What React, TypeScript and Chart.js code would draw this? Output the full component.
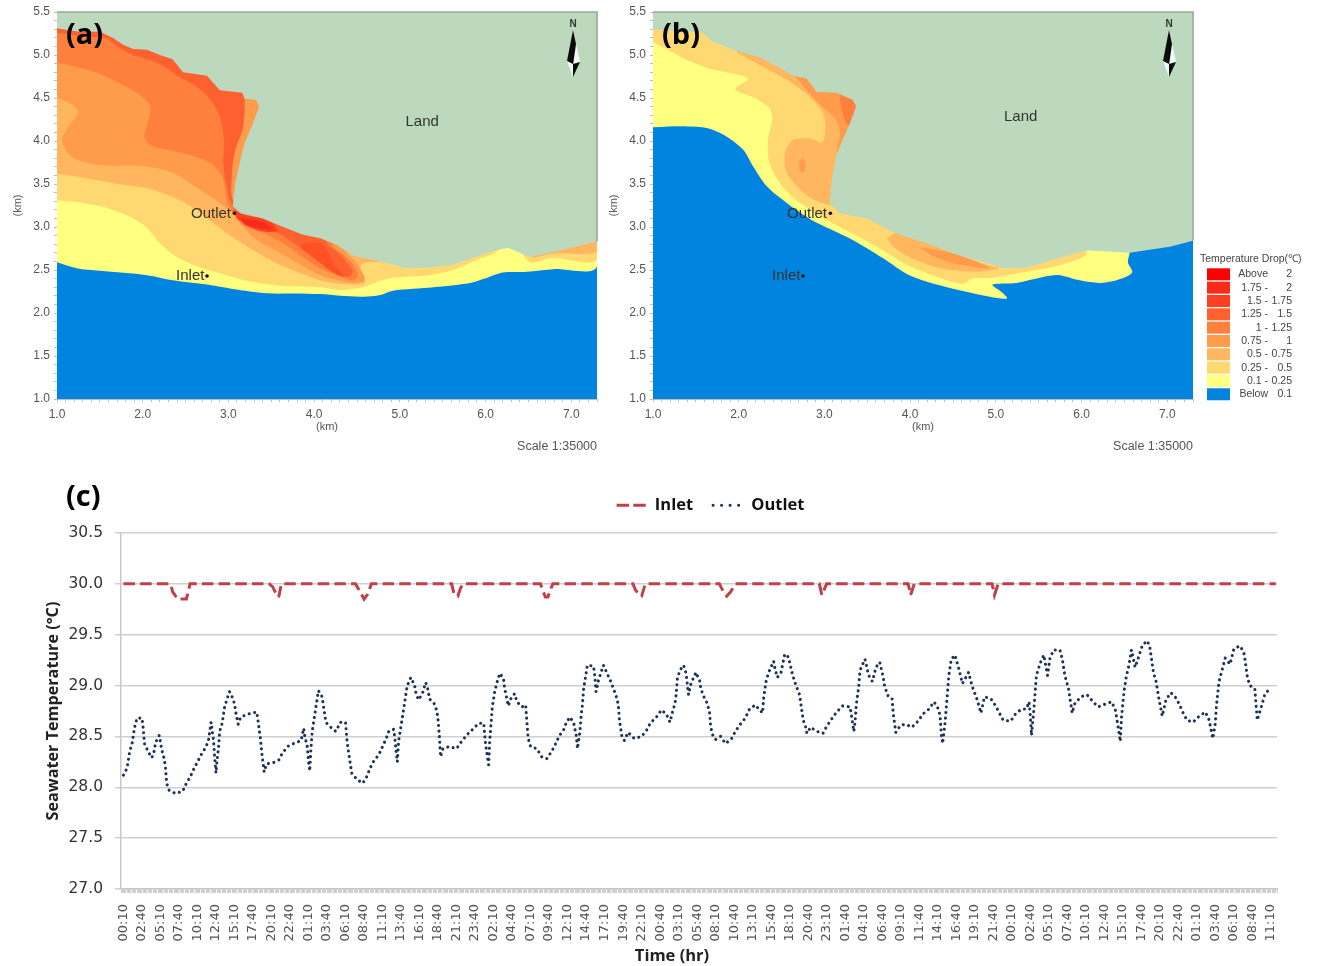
import React, { useEffect, useRef } from "react";
import { Chart, registerables } from "chart.js";

Chart.register(...registerables);

type Pt = number[];

// ---------- temperature classes ----------
const classColors = ["#FF0000", "#F82A1A", "#FF3F1E", "#FF6030", "#FF7F3C", "#FF9C4C", "#FFB65E", "#FFD872", "#FFFF80", "#0084E0"];
const classLow = ["Above", "1.75 -", "1.5 -", "1.25 -", "1 -", "0.75 -", "0.5 -", "0.25 -", "0.1 -", "Below"];
const classHigh = ["2", "2", "1.75", "1.5", "1.25", "1", "0.75", "0.5", "0.25", "0.1"];
const landColor = "#BCD9BE";

// ---------- panel (a): iso-drop regions, km ----------
const seaExtent: Pt[] = [[1, 1], [7.3, 1], [7.3, 5.5], [1, 5.5]];
const aDrop010: Pt[] = [[1, 2.59], [1.23, 2.52], [1.5, 2.49], [2.05, 2.44], [2.35, 2.38], [2.75, 2.33], [3.05, 2.28], [3.45, 2.23], [4.07, 2.22], [4.3, 2.2], [4.57, 2.19], [4.77, 2.21], [4.92, 2.26], [5.39, 2.3], [5.82, 2.35], [6.02, 2.41], [6.2, 2.47], [6.48, 2.48], [6.79, 2.51], [7.3, 2.55], [7.3, 5.5], [1, 5.5]];
const aDrop025: Pt[] = [[1, 3.31], [1.23, 3.29], [1.58, 3.22], [1.89, 3.1], [2.05, 2.99], [2.2, 2.81], [2.4, 2.65], [2.67, 2.53], [2.98, 2.44], [3.29, 2.36], [3.68, 2.31], [4.07, 2.3], [4.3, 2.27], [4.57, 2.3], [4.73, 2.36], [4.92, 2.41], [5.35, 2.44], [5.62, 2.5], [5.9, 2.62], [6.09, 2.69], [6.23, 2.78], [6.4, 2.72], [6.52, 2.59], [6.79, 2.64], [7.3, 2.64], [7.3, 5.5], [1, 5.5]];
const aDrop050: Pt[] = [[1, 3.62], [1.27, 3.58], [1.65, 3.51], [2.05, 3.45], [2.35, 3.35], [2.63, 3.2], [2.82, 3.05], [3.05, 2.88], [3.29, 2.73], [3.6, 2.56], [4.07, 2.38], [4.3, 2.34], [4.59, 2.35], [4.54, 2.5], [4.57, 2.58], [4.83, 2.64], [4.83, 5.5], [1, 5.5]];
const aDrop050East: Pt[] = [[6.55, 2.64], [6.79, 2.69], [7.3, 2.71], [7.3, 2.9], [6.52, 2.75]];
const aDrop075: Pt[] = [[1, 4.5], [1.13, 4.45], [1.25, 4.34], [1.13, 4.16], [1.06, 4.01], [1.18, 3.81], [1.5, 3.72], [2, 3.71], [2.35, 3.63], [2.67, 3.43], [2.9, 3.28], [3.05, 3.16], [3.29, 2.88], [3.6, 2.7], [3.84, 2.56], [4.07, 2.44], [4.27, 2.38], [4.45, 2.35], [4.59, 2.38], [4.51, 2.56], [4.36, 2.76], [4.36, 5.5], [1, 5.5]];
const aDrop100: Pt[] = [[1, 4.91], [1.15, 4.88], [1.47, 4.79], [1.77, 4.65], [2, 4.51], [2.09, 4.4], [2.06, 4.21], [2.02, 4.05], [2.09, 3.95], [2.28, 3.9], [2.55, 3.84], [2.79, 3.74], [2.93, 3.58], [2.98, 3.31], [3.05, 3.17], [3.17, 3.02], [3.4, 2.93], [3.64, 2.81], [3.84, 2.67], [4.07, 2.52], [4.27, 2.44], [4.45, 2.38], [4.51, 2.44], [4.44, 2.58], [4.3, 2.71], [4.22, 2.78], [4.22, 3.2], [3.3, 3.25], [3.06, 3.3], [3.04, 3.63], [3.08, 3.9], [3.17, 4.16], [3.19, 4.49], [3.19, 5.5], [1, 5.5]];
const aDrop125: Pt[] = [[1, 5.26], [1.27, 5.22], [1.58, 5.19], [1.7, 5.1], [1.89, 5], [2.17, 4.91], [2.44, 4.74], [2.63, 4.63], [2.79, 4.48], [2.9, 4.28], [2.95, 4.01], [2.94, 3.74], [2.98, 3.47], [3.04, 3.26], [3.22, 3.05], [3.45, 2.99], [3.68, 2.87], [3.87, 2.73], [4.07, 2.58], [4.22, 2.48], [4.4, 2.42], [4.45, 2.48], [4.38, 2.59], [4.27, 2.71], [4.15, 2.81], [4.15, 3.1], [3.3, 3.3], [3.06, 3.3], [3.04, 3.63], [3.08, 3.9], [3.17, 4.16], [3.19, 4.49], [3.19, 5.5], [1, 5.5]];
const aDrop150Outlet: Pt[] = [[3.05, 3.2], [3.22, 3.13], [3.43, 3.1], [3.54, 3.02], [3.56, 2.95], [3.39, 2.95], [3.23, 3.01], [3.1, 3.1]];
const aDrop150South: Pt[] = [[3.84, 2.8], [4.07, 2.81], [4.16, 2.71], [4.24, 2.56], [4.36, 2.43], [4.28, 2.44], [4.15, 2.52], [4.07, 2.59], [3.87, 2.74]];
const aDrop175Outlet: Pt[] = [[3.14, 3.1], [3.31, 3.08], [3.48, 3.01], [3.51, 2.97], [3.34, 2.99], [3.19, 3.03]];
const aLand: Pt[] = [[1, 5.31], [1.12, 5.29], [1.27, 5.27], [1.5, 5.27], [1.65, 5.2], [1.77, 5.12], [1.89, 5.07], [2.05, 5.06], [2.2, 5], [2.35, 4.95], [2.47, 4.8], [2.75, 4.76], [2.9, 4.59], [3.16, 4.56], [3.19, 4.49], [3.32, 4.48], [3.36, 4.4], [3.28, 4.19], [3.19, 3.98], [3.14, 3.78], [3.08, 3.51], [3.05, 3.24], [3.14, 3.16], [3.4, 3.1], [3.64, 3], [3.87, 2.91], [4.07, 2.87], [4.27, 2.79], [4.45, 2.67], [4.77, 2.6], [5.08, 2.52], [5.32, 2.53], [5.62, 2.56], [5.85, 2.64], [6.09, 2.72], [6.26, 2.76], [6.4, 2.7], [6.52, 2.65], [6.79, 2.71], [7.3, 2.83], [7.3, 5.5], [1, 5.5]];
const aFrame: Pt[] = [[1, 5.5], [7.3, 5.5], [7.3, 2.83]];

// ---------- panel (b): iso-drop regions, km ----------
const bDrop010: Pt[] = [[1, 4.16], [1.4, 4.17], [1.63, 4.15], [1.86, 4.05], [2.05, 3.9], [2.17, 3.7], [2.33, 3.47], [2.56, 3.28], [2.79, 3.12], [2.91, 3.05], [3.33, 2.85], [3.68, 2.64], [3.99, 2.44], [4.43, 2.3], [4.93, 2.19], [5.13, 2.17], [5.07, 2.24], [4.96, 2.33], [5.24, 2.35], [5.55, 2.42], [5.74, 2.44], [5.98, 2.38], [6.21, 2.35], [6.41, 2.38], [6.59, 2.47], [6.54, 2.59], [6.56, 2.7], [6.56, 5.5], [1, 5.5]];
const bDrop025: Pt[] = [[1, 5.15], [1.12, 5.09], [1.4, 4.94], [1.7, 4.83], [2.11, 4.73], [1.96, 4.6], [2.17, 4.51], [2.36, 4.38], [2.39, 4.24], [2.34, 4.01], [2.36, 3.74], [2.48, 3.51], [2.63, 3.35], [2.75, 3.26], [3.03, 3.08], [3.41, 2.88], [3.68, 2.73], [3.96, 2.56], [4.26, 2.44], [4.61, 2.34], [4.73, 2.4], [4.96, 2.41], [5.36, 2.48], [5.63, 2.53], [5.83, 2.58], [6.06, 2.71], [6.06, 5.5], [1, 5.5]];
const bDrop050: Pt[] = [[1.98, 5.03], [2.25, 4.88], [2.63, 4.67], [2.86, 4.48], [3, 4.28], [2.98, 3.99], [2.83, 4.03], [2.63, 4.01], [2.54, 3.86], [2.56, 3.63], [2.79, 3.37], [3.06, 3.26], [3.3, 3.3], [3.6, 5.5], [1.98, 5.5]];
const bDrop050South: Pt[] = [[3.73, 2.87], [3.88, 2.95], [4.08, 2.87], [4.43, 2.73], [4.89, 2.56], [5.04, 2.52], [4.78, 2.48], [4.35, 2.52], [3.99, 2.65], [3.8, 2.77]];
const bDrop075: Pt[] = [[2.6, 4.8], [2.65, 4.76], [2.77, 4.62], [2.95, 4.42], [3.12, 4.27], [3.18, 4.1], [3.16, 3.84], [3.5, 3.84], [3.5, 5], [2.6, 5]];
const bDrop075Spot: Pt[] = [[2.7, 3.75], [2.74, 3.8], [2.78, 3.75], [2.77, 3.67], [2.74, 3.63], [2.71, 3.67]];
const bDrop075South: Pt[] = [[4.11, 2.76], [4.34, 2.73], [4.66, 2.64], [4.93, 2.52], [4.58, 2.56], [4.31, 2.64]];
const bDrop100: Pt[] = [[3.18, 4.5], [3.21, 4.33], [3.27, 4.19], [3.5, 4.19], [3.5, 4.6], [3.18, 4.6]];
const bLand: Pt[] = [[1, 5.3], [1.12, 5.29], [1.58, 5.26], [1.7, 5.15], [1.93, 5.06], [2.25, 4.97], [2.48, 4.85], [2.63, 4.76], [2.79, 4.73], [2.91, 4.57], [3.14, 4.56], [3.33, 4.48], [3.37, 4.4], [3.3, 4.21], [3.21, 4.01], [3.14, 3.84], [3.09, 3.58], [3.06, 3.28], [3.18, 3.16], [3.49, 3.1], [3.8, 2.94], [4.19, 2.81], [4.58, 2.67], [4.96, 2.56], [5.08, 2.52], [5.36, 2.53], [5.74, 2.64], [6.06, 2.73], [6.56, 2.7], [6.83, 2.74], [7.03, 2.77], [7.3, 2.84], [7.3, 5.5], [1, 5.5]];
const bFrame: Pt[] = [[1, 5.5], [7.3, 5.5], [7.3, 2.84]];

const outletPoint: Pt[] = [[3.07, 3.16]];
const inletPoint: Pt[] = [[2.75, 2.43]];

// ---------- panel (c): time-series ----------
const timeLabels = ["00:10", "02:40", "05:10", "07:40", "10:10", "12:40", "15:10", "17:40", "20:10", "22:40", "01:10", "03:40", "06:10", "08:40", "11:10", "13:40", "16:10", "18:40", "21:10", "23:40", "02:10", "04:40", "07:10", "09:40", "12:10", "14:40", "17:10", "19:40", "22:10", "00:40", "03:10", "05:40", "08:10", "10:40", "13:10", "15:40", "18:10", "20:40", "23:10", "01:40", "04:10", "06:40", "09:10", "11:40", "14:10", "16:40", "19:10", "21:40", "00:10", "02:40", "05:10", "07:40", "10:10", "12:40", "15:10", "17:40", "20:10", "22:40", "01:10", "03:40", "06:10", "08:40", "11:10"];
const tempTicks = [27, 27.5, 28, 28.5, 29, 29.5, 30, 30.5];

// elapsed minutes since the first 00:10 sample, °C
const inletSeries: Pt[] = [[0, 30], [380, 30], [400, 29.92], [440, 29.85], [510, 29.85], [530, 29.95], [540, 30], [1180, 30], [1210, 29.97], [1250, 29.87], [1260, 29.88], [1280, 30], [1880, 30], [1910, 29.94], [1950, 29.85], [1980, 29.9], [2010, 30], [2660, 30], [2680, 29.9], [2710, 29.88], [2730, 29.95], [2750, 30], [3380, 30], [3400, 29.93], [3420, 29.87], [3440, 29.87], [3470, 29.97], [3480, 30], [4130, 30], [4150, 29.94], [4190, 29.88], [4200, 29.88], [4230, 30], [4830, 30], [4860, 29.93], [4890, 29.88], [4920, 29.92], [4960, 30], [5640, 30], [5650, 29.95], [5660, 29.89], [5700, 30], [6360, 30], [6370, 29.95], [6380, 29.89], [6410, 30], [7040, 30], [7050, 29.95], [7060, 29.89], [7090, 30], [9340, 30]];
const outletSeries: Pt[] = [[0, 28.12], [30, 28.19], [50, 28.35], [70, 28.43], [90, 28.59], [110, 28.68], [150, 28.68], [160, 28.58], [170, 28.43], [200, 28.35], [230, 28.29], [250, 28.36], [260, 28.44], [290, 28.51], [300, 28.44], [310, 28.37], [330, 28.28], [340, 28.2], [350, 28.04], [370, 27.97], [420, 27.94], [480, 27.96], [510, 28.04], [540, 28.1], [570, 28.18], [600, 28.25], [630, 28.32], [670, 28.4], [690, 28.47], [710, 28.64], [730, 28.46], [740, 28.28], [750, 28.14], [760, 28.28], [770, 28.38], [780, 28.55], [800, 28.63], [810, 28.71], [820, 28.79], [840, 28.87], [860, 28.94], [880, 28.89], [900, 28.82], [910, 28.74], [930, 28.62], [950, 28.69], [1010, 28.72], [1080, 28.74], [1090, 28.66], [1110, 28.48], [1120, 28.35], [1130, 28.25], [1140, 28.15], [1160, 28.23], [1210, 28.24], [1260, 28.27], [1290, 28.34], [1340, 28.41], [1400, 28.44], [1440, 28.46], [1460, 28.58], [1470, 28.5], [1490, 28.4], [1500, 28.25], [1510, 28.16], [1520, 28.38], [1530, 28.55], [1540, 28.63], [1550, 28.71], [1560, 28.79], [1580, 28.95], [1610, 28.89], [1630, 28.73], [1640, 28.64], [1670, 28.6], [1720, 28.55], [1760, 28.64], [1800, 28.64], [1810, 28.48], [1820, 28.38], [1840, 28.22], [1850, 28.14], [1890, 28.08], [1940, 28.04], [1970, 28.1], [2000, 28.19], [2030, 28.26], [2070, 28.32], [2100, 28.4], [2130, 28.48], [2150, 28.55], [2190, 28.57], [2200, 28.48], [2210, 28.35], [2220, 28.25], [2230, 28.45], [2240, 28.53], [2260, 28.68], [2270, 28.76], [2280, 28.84], [2300, 29], [2330, 29.08], [2360, 29], [2370, 28.93], [2390, 28.86], [2420, 28.91], [2450, 29.03], [2470, 28.95], [2480, 28.87], [2520, 28.82], [2540, 28.75], [2550, 28.66], [2560, 28.51], [2570, 28.3], [2590, 28.38], [2640, 28.4], [2700, 28.38], [2740, 28.45], [2780, 28.51], [2830, 28.57], [2880, 28.63], [2920, 28.63], [2930, 28.48], [2940, 28.38], [2960, 28.22], [2970, 28.48], [2980, 28.63], [2990, 28.79], [3010, 28.95], [3030, 29.04], [3050, 29.12], [3080, 29.07], [3090, 28.97], [3120, 28.8], [3140, 28.87], [3170, 28.92], [3190, 28.84], [3230, 28.79], [3260, 28.81], [3270, 28.64], [3280, 28.48], [3300, 28.4], [3350, 28.38], [3390, 28.3], [3430, 28.28], [3470, 28.35], [3500, 28.42], [3530, 28.5], [3570, 28.57], [3590, 28.64], [3620, 28.69], [3650, 28.63], [3670, 28.51], [3680, 28.38], [3700, 28.55], [3710, 28.71], [3720, 28.81], [3730, 28.97], [3750, 29.12], [3760, 29.2], [3810, 29.19], [3820, 29.1], [3830, 28.94], [3850, 29.05], [3890, 29.2], [3920, 29.12], [3950, 29.04], [3990, 28.91], [4010, 28.82], [4020, 28.66], [4030, 28.58], [4040, 28.5], [4060, 28.46], [4090, 28.54], [4140, 28.48], [4200, 28.5], [4240, 28.56], [4270, 28.63], [4320, 28.69], [4360, 28.76], [4400, 28.72], [4430, 28.64], [4450, 28.74], [4470, 28.82], [4480, 28.91], [4490, 29.07], [4510, 29.15], [4540, 29.2], [4560, 29.12], [4580, 28.91], [4600, 29.02], [4640, 29.13], [4670, 29.05], [4680, 28.97], [4700, 28.9], [4730, 28.83], [4750, 28.74], [4760, 28.59], [4780, 28.5], [4800, 28.47], [4840, 28.5], [4880, 28.43], [4930, 28.48], [4960, 28.55], [5000, 28.62], [5040, 28.68], [5070, 28.76], [5120, 28.81], [5150, 28.77], [5180, 28.73], [5190, 28.89], [5210, 29.05], [5230, 29.13], [5270, 29.24], [5280, 29.17], [5300, 29.08], [5330, 29.13], [5360, 29.31], [5390, 29.28], [5420, 29.12], [5440, 29.04], [5480, 28.91], [5500, 28.74], [5510, 28.66], [5530, 28.59], [5540, 28.53], [5570, 28.59], [5620, 28.55], [5670, 28.53], [5700, 28.6], [5740, 28.67], [5780, 28.74], [5830, 28.8], [5890, 28.79], [5900, 28.71], [5920, 28.55], [5930, 28.64], [5940, 28.81], [5960, 28.99], [5970, 29.15], [6010, 29.26], [6040, 29.1], [6070, 29.04], [6100, 29.18], [6130, 29.23], [6160, 29.07], [6170, 28.99], [6200, 28.89], [6230, 28.87], [6240, 28.72], [6250, 28.63], [6260, 28.54], [6300, 28.61], [6340, 28.62], [6390, 28.59], [6440, 28.65], [6480, 28.72], [6530, 28.77], [6570, 28.84], [6610, 28.76], [6620, 28.68], [6630, 28.51], [6640, 28.43], [6660, 28.64], [6680, 28.94], [6690, 29.1], [6710, 29.26], [6740, 29.3], [6770, 29.17], [6800, 29.02], [6850, 29.13], [6880, 28.99], [6920, 28.86], [6950, 28.73], [6980, 28.89], [7030, 28.87], [7070, 28.8], [7100, 28.73], [7130, 28.66], [7190, 28.65], [7230, 28.72], [7280, 28.77], [7320, 28.77], [7340, 28.84], [7350, 28.71], [7360, 28.51], [7380, 28.77], [7390, 28.94], [7400, 29.1], [7430, 29.22], [7460, 29.3], [7490, 29.1], [7510, 29.27], [7540, 29.35], [7590, 29.35], [7610, 29.26], [7630, 29.1], [7660, 28.97], [7690, 28.73], [7710, 28.82], [7760, 28.89], [7810, 28.91], [7860, 28.84], [7900, 28.79], [7960, 28.82], [8010, 28.84], [8040, 28.76], [8060, 28.61], [8080, 28.45], [8090, 28.69], [8110, 28.94], [8130, 29.1], [8150, 29.2], [8170, 29.35], [8200, 29.18], [8220, 29.25], [8260, 29.4], [8300, 29.44], [8320, 29.37], [8340, 29.2], [8350, 29.12], [8370, 29.04], [8390, 28.89], [8420, 28.7], [8450, 28.86], [8490, 28.93], [8530, 28.88], [8560, 28.81], [8590, 28.73], [8620, 28.66], [8670, 28.64], [8720, 28.7], [8770, 28.74], [8800, 28.66], [8830, 28.48], [8850, 28.63], [8860, 28.81], [8880, 29.04], [8900, 29.13], [8930, 29.27], [8970, 29.21], [9000, 29.36], [9050, 29.39], [9080, 29.33], [9090, 29.26], [9110, 29.08], [9130, 29], [9170, 28.97], [9180, 28.81], [9190, 28.66], [9210, 28.74], [9230, 28.82], [9250, 28.91], [9290, 28.97]];

const toXY = (p: Pt[]) => p.map(([x, y]) => ({ x, y }));
const MAP_FONT = "'Liberation Sans', Arial, sans-serif";

function region(points: Pt[], color: string, tension = 0.3) {
  return {
    data: toXY(points),
    backgroundColor: color,
    borderColor: "transparent",
    borderWidth: 0,
    fill: "shape",
    pointRadius: 0,
    tension,
  };
}

function northArrow(ctx: CanvasRenderingContext2D) {
  const shape = (pts: number[][], color: string) => {
    ctx.fillStyle = color;
    ctx.beginPath();
    pts.forEach(([x, y], i) => (i ? ctx.lineTo(x, y) : ctx.moveTo(x, y)));
    ctx.closePath();
    ctx.fill();
  };
  shape([[573, 30], [580, 62], [573, 64]], "#f4f8f4");
  shape([[573, 30], [567, 61], [573, 65], [576, 44]], "#0a0a0a");
  shape([[567, 61], [573, 77], [573, 64]], "#f4f8f4");
  shape([[580, 62], [573, 77], [573, 64]], "#0a0a0a");
  ctx.font = `bold 10px ${MAP_FONT}`;
  ctx.fillStyle = "#333";
  ctx.textAlign = "center";
  ctx.textBaseline = "middle";
  ctx.fillText("N", 573, 24);
}

function makeMapChart(canvas: HTMLCanvasElement, panel: string, layers: any[], land: Pt[], frame: Pt[], landLabel: Pt, withLegend: boolean) {
  const rightPad = canvas.width - 597;
  const annotate = {
    id: "mapText",
    afterDraw(chart: any) {
      const { ctx, scales } = chart;
      const px = (v: number) => scales.x.getPixelForValue(v);
      const py = (v: number) => scales.y.getPixelForValue(v) + 1;
      ctx.save();
      ctx.textBaseline = "middle";
      ctx.fillStyle = "#333";
      ctx.font = `15px ${MAP_FONT}`;
      ctx.textAlign = "center";
      ctx.fillText("Land", px(landLabel[0]), py(landLabel[1]));
      ctx.textAlign = "right";
      ctx.fillText("Outlet", px(3.03), py(3.16));
      ctx.fillText("Inlet", px(2.72), py(2.44));
      ctx.font = `12.5px ${MAP_FONT}`;
      ctx.fillStyle = "#555";
      ctx.fillText("Scale 1:35000", 597, 447);
      ctx.font = "bold 29px 'Open Sans', sans-serif";
      ctx.fillStyle = "#000";
      ctx.textAlign = "left";
      ctx.fillText(panel, 66, 36);
      northArrow(ctx);
      if (withLegend) {
        ctx.font = `10.5px ${MAP_FONT}`;
        ctx.fillStyle = "#444";
        ctx.textAlign = "left";
        ctx.fillText("Temperature Drop(℃)", 604, 259);
        classColors.forEach((c, i) => {
          const y = 274.3 + i * 13.33;
          ctx.fillStyle = c;
          ctx.fillRect(611, y - 6, 23, 12);
          ctx.fillStyle = "#444";
          ctx.textAlign = "right";
          ctx.fillText(classLow[i], 672, y);
          ctx.fillText(classHigh[i], 696, y);
        });
      }
      ctx.restore();
    },
  };
  const axisCommon = {
    type: "linear",
    grid: { drawOnChartArea: false, drawTicks: true, tickLength: 3, color: "#bdbdbd", lineWidth: 1 },
    border: { color: "#bdbdbd" },
  };
  const ordered = [
    ...layers,
    region(land, landColor, 0),
    { data: toXY(frame), borderColor: "#98a89a", borderWidth: 1.6, pointRadius: 0, fill: false, tension: 0, clip: false },
    { data: toXY([...outletPoint, ...inletPoint]), showLine: false, pointRadius: 1.8, pointBackgroundColor: "#111", pointBorderWidth: 0 },
  ].map((d, i, all) => ({ ...d, order: all.length - i }));
  return new Chart(canvas, {
    type: "line",
    data: { datasets: ordered as any },
    plugins: [annotate],
    options: {
      animation: false,
      responsive: false,
      layout: { padding: { top: 12, right: rightPad, left: 0, bottom: 0 } },
      plugins: { legend: { display: false }, tooltip: { enabled: false } },
      scales: {
        x: {
          ...axisCommon,
          min: 1,
          max: 7.3,
          afterFit: (s: any) => { s.height = 61; },
          title: { display: true, text: "(km)", color: "#555", font: { family: MAP_FONT, size: 11 }, padding: { top: 0, bottom: 26 } },
          ticks: {
            stepSize: 0.1,
            autoSkip: false,
            maxRotation: 0,
            minRotation: 0,
            padding: 5,
            color: "#555",
            font: { family: MAP_FONT, size: 12 },
            callback: (v: any) => { const r = Math.round(Number(v) * 10); return r % 10 === 0 ? (r / 10).toFixed(1) : ""; },
          },
        },
        y: {
          ...axisCommon,
          min: 1,
          max: 5.5,
          afterFit: (s: any) => { s.width = 57; },
          title: { display: true, text: "(km)", color: "#555", font: { family: MAP_FONT, size: 11 }, padding: { top: 11, bottom: 0 } },
          ticks: {
            stepSize: 0.1,
            autoSkip: false,
            padding: 4,
            color: "#555",
            font: { family: MAP_FONT, size: 12 },
            callback: (v: any) => { const r = Math.round(Number(v) * 10); return r % 5 === 0 ? (r / 10).toFixed(1) : ""; },
          },
        },
      },
    } as any,
  });
}

function makeSeriesChart(canvas: HTMLCanvasElement) {
  const TICK_FONT = "'DejaVu Sans', sans-serif";
  const TITLE_FONT = "'Open Sans', sans-serif";
  const INLET_DASH = [11.5, 5.2];
  const OUTLET_DASH = [0.01, 5.6];
  const extras = {
    id: "seriesText",
    afterLayout(chart: any) {
      chart.legend.left += 72;
      chart.legend.right += 72;
      chart.legend.top -= 9.5;
      chart.legend.bottom -= 9.5;
    },
    afterDraw(chart: any) {
      const { ctx } = chart;
      ctx.save();
      ctx.fillStyle = "#000";
      ctx.textBaseline = "middle";
      ctx.textAlign = "left";
      ctx.font = `bold 29px ${TITLE_FONT}`;
      ctx.fillText("(c)", 66, 28);
      ctx.font = `bold 16.5px ${TITLE_FONT}`;
      ctx.fillStyle = "#222";
      ctx.textAlign = "center";
      ctx.fillText("Time (hr)", 672, 486);
      ctx.restore();
    },
  };
  return new Chart(canvas, {
    type: "line",
    data: {
      datasets: [
        {
          label: "Inlet",
          data: toXY(inletSeries),
          borderColor: "#C0404A",
          backgroundColor: "#C0404A",
          borderWidth: 3,
          borderDash: INLET_DASH,
          pointRadius: 0,
          tension: 0,
          fill: false,
        },
        {
          label: "Outlet",
          data: toXY(outletSeries),
          borderColor: "#1B3358",
          backgroundColor: "#1B3358",
          borderWidth: 3.1,
          borderDash: OUTLET_DASH,
          borderCapStyle: "round",
          pointRadius: 0,
          tension: 0,
          fill: false,
        },
      ],
    },
    plugins: [extras],
    options: {
      animation: false,
      responsive: false,
      layout: { padding: { top: 16.5, right: 42, left: 0, bottom: 0 } },
      plugins: {
        tooltip: { enabled: false },
        legend: {
          display: true,
          position: "top",
          labels: {
            usePointStyle: true,
            pointStyle: "line",
            pointStyleWidth: 30,
            boxHeight: 16,
            padding: 20,
            color: "#111",
            font: { family: TITLE_FONT, size: 16.5, weight: "bold" },
            generateLabels: (chart: any) =>
              Chart.defaults.plugins.legend.labels.generateLabels(chart).map((item: any, i: number) => ({
                ...item,
                lineDash: i === 0 ? [12.5, 4.2] : [0.01, 8.5],
                lineCap: i === 0 ? "butt" : "round",
                lineWidth: i === 0 ? 3 : 3.1,
                strokeStyle: i === 0 ? "#C0404A" : "#1B3358",
              })),
          },
        },
      },
      scales: {
        x: {
          type: "linear",
          min: -20,
          max: 9350,
          afterFit: (s: any) => { s.height = 77; },
          grid: { drawOnChartArea: false, drawTicks: true, tickLength: 4, color: "#cfcfcf", lineWidth: 1 },
          border: { color: "#c8c8c8", width: 1.5 },
          ticks: {
            stepSize: 10,
            autoSkip: false,
            minRotation: 90,
            maxRotation: 90,
            padding: 11,
            color: "#555",
            font: { family: TICK_FONT, size: 13 },
            callback: (v: any) => {
              const n = Math.round(Number(v));
              return n >= 0 && n % 150 === 0 ? timeLabels[n / 150] ?? "" : "";
            },
          },
        },
        y: {
          type: "linear",
          min: tempTicks[0],
          max: tempTicks[tempTicks.length - 1],
          afterFit: (s: any) => { s.width = 121; },
          title: {
            display: true,
            text: "Seawater Temperature (°C)",
            color: "#222",
            font: { family: TITLE_FONT, size: 16.2, weight: "bold" },
            padding: { top: 44, bottom: 0 },
          },
          grid: { color: "#cfcfcf", lineWidth: 1.5, tickLength: 6 },
          border: { color: "#c8c8c8", width: 1.5 },
          ticks: { stepSize: 0.5, padding: 12, color: "#333", font: { family: TICK_FONT, size: 15.5 }, callback: (v: any) => Number(v).toFixed(1) },
        },
      },
    } as any,
  });
}

export default function App() {
  const aRef = useRef<HTMLCanvasElement>(null);
  const bRef = useRef<HTMLCanvasElement>(null);
  const cRef = useRef<HTMLCanvasElement>(null);

  useEffect(() => {
    const sea = classColors[9];
    const chartA = makeMapChart(aRef.current!, "(a)", [
      region(seaExtent, sea, 0),
      region(aDrop010, classColors[8]),
      region(aDrop025, classColors[7]),
      region(aDrop050, classColors[6]),
      region(aDrop050East, classColors[6]),
      region(aDrop075, classColors[5]),
      region(aDrop100, classColors[4]),
      region(aDrop125, classColors[3]),
      region(aDrop150South, "#FF5026"),
      region(aDrop150Outlet, classColors[2]),
      region(aDrop175Outlet, classColors[1]),
    ], aLand, aFrame, [5.26, 4.23], false);
    const chartB = makeMapChart(bRef.current!, "(b)", [
      region(seaExtent, sea, 0),
      region(bDrop010, classColors[8]),
      region(bDrop025, classColors[7]),
      region(bDrop050, classColors[6]),
      region(bDrop050South, classColors[6]),
      region(bDrop075, classColors[5]),
      region(bDrop075Spot, classColors[5]),
      region(bDrop075South, classColors[5]),
      region(bDrop100, classColors[4]),
    ], bLand, bFrame, [5.29, 4.29], true);
    const chartC = makeSeriesChart(cRef.current!);
    return () => {
      chartA.destroy();
      chartB.destroy();
      chartC.destroy();
    };
  }, []);

  const abs = (left: number, top: number): React.CSSProperties => ({ position: "absolute", left, top, display: "block", filter: "blur(0.35px)" });
  return (
    <div style={{ position: "absolute", left: 0, top: 0, width: 1319, height: 966, overflow: "hidden", background: "#fff" }}>
      <canvas ref={aRef} width={620} height={460} style={abs(0, 0)} />
      <canvas ref={bRef} width={723} height={460} style={abs(596, 0)} />
      <canvas ref={cRef} width={1319} height={496} style={abs(0, 470)} />
    </div>
  );
}
